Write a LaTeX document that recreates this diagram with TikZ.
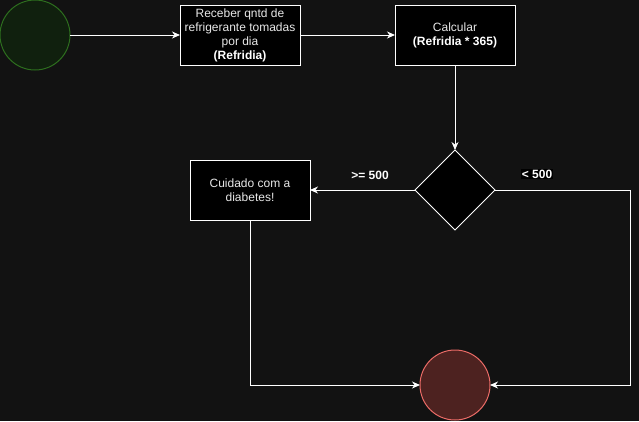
\documentclass[tikz,border=0pt]{standalone}
\usepackage{fontspec}
\setmainfont{Liberation Sans}
\usepackage{tikz}
\usetikzlibrary{%
  shapes,arrows.meta,positioning,shapes.geometric,calc}
\tikzstyle{line} = [draw, -{Stealth[length=8pt,width=7pt,inset=2.5pt]},line width=1pt,fill=none,white]
\definecolor{bgDark}{RGB}{18,18,18}
\definecolor{txtGray}{RGB}{232,232,232}
\definecolor{startFill}{RGB}{16,32,14}
\definecolor{startDraw}{RGB}{45,110,30}
\definecolor{endFill}{RGB}{77,34,32}
\definecolor{endDraw}{RGB}{234,107,102}

\begin{document}
\begin{tikzpicture}[
    x=1pt,y=-1pt,
    every node/.style={font=\fontsize{12}{14}\selectfont},
    step box/.style={
      draw=white,
      line width=1pt,
      rectangle,
      minimum width=120pt,
      minimum height=60pt,
      fill=black,
      text=txtGray,
      align=center,
      inner sep=2pt,
      outer sep=0pt,
    },
    decide/.style={
      draw=white,
      line width=1pt,
      diamond,
      aspect=1,
      minimum size=80pt,
      fill=black,
      inner sep=0pt,
      outer sep=0pt,
    },
    startstate/.style={
      draw=startDraw,
      circle,
      line width=1pt,
      minimum size=70pt,
      fill=startFill,
      inner sep=0pt,
      outer sep=0pt,
    },
    endstate/.style={
      draw=endDraw,
      circle,
      line width=1pt,
      minimum size=70pt,
      fill=endFill,
      inner sep=0pt,
      outer sep=0pt,
    },
    cond/.style={
      text=white,
      font=\fontsize{12}{14}\selectfont\bfseries,
      inner sep=1pt,
    },
  ]

  \fill[bgDark] (0,0) rectangle (639,421);
  \useasboundingbox (0,0) rectangle (639,421);

  \node[startstate] (start) at (35,35) {};
  \node[step box,right=110pt of start] (read) {Receber qntd de\\refrigerante tomadas\\por dia\\\textcolor{white}{\bfseries(Refridia)}};
  \node[step box,right=95pt of read] (calc) {Calcular\\\textcolor{white}{\bfseries(Refridia * 365)}};
  \node[decide,below=85pt of calc] (dec) {};
  \node[step box,left=105pt of dec] (warn) {Cuidado com a\\diabetes!};
  \node[endstate,below=120pt of dec] (stop) {};
  \coordinate (rturn) at (630,190);

  \draw[line] (start) -- (read);
  \draw[line] (read) -- (calc);
  \draw[line] (calc) -- (dec);
  \draw[line] (dec) -- (warn);
  \draw[line] (dec.east) -- (rturn) |- (stop.east);
  \draw[line] (warn.south) |- (stop.west);

  % conditions
  \node[cond] (ge) at (370,175) {>= 500};
  \node[cond,fill=black] (lt) at (537,174) {< 500};

\end{tikzpicture}
\end{document}
